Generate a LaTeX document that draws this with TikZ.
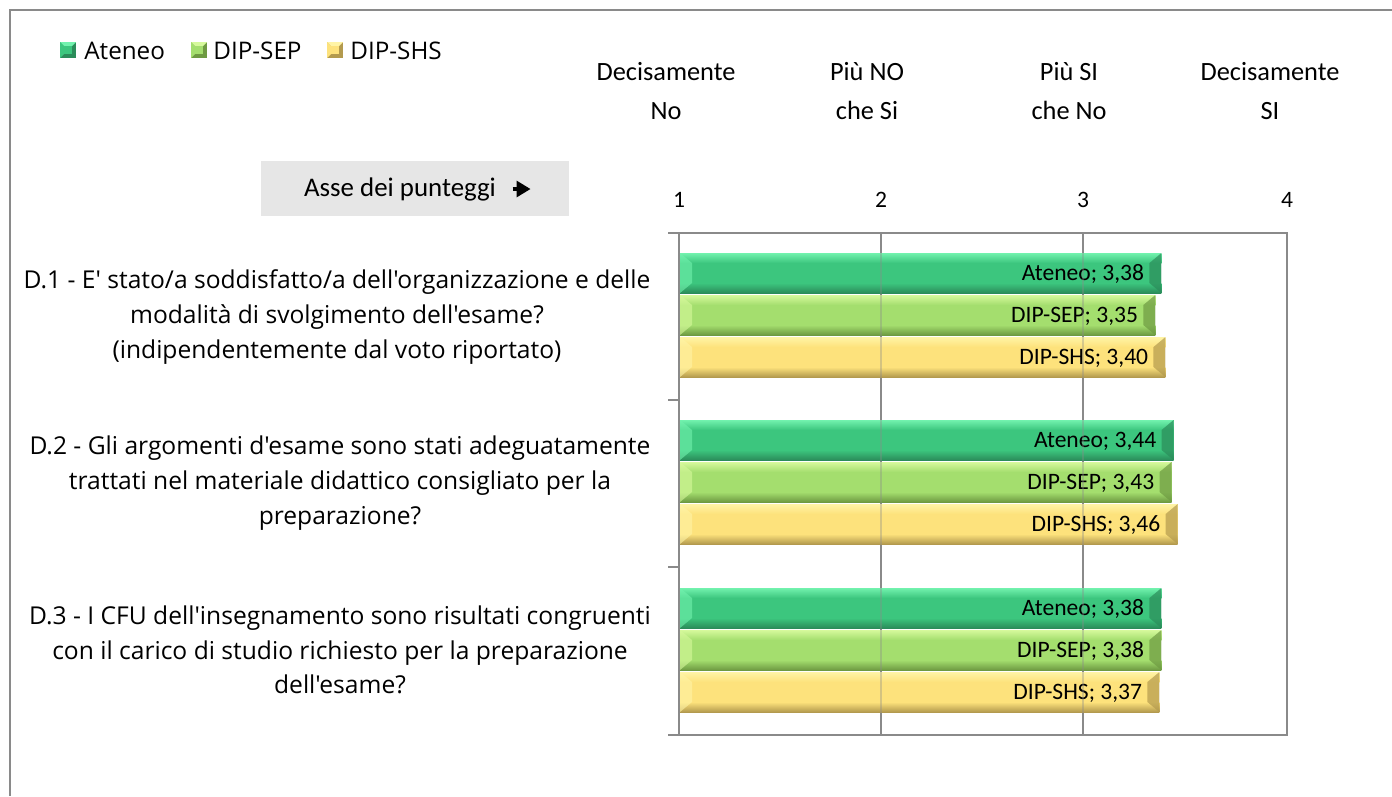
\documentclass[tikz,border=0pt]{standalone}
\usepackage{fontspec}
\setmainfont{Carlito}
\newfontfamily\qfont{Open Sans}
\usetikzlibrary{positioning, arrows.meta}

\definecolor{frame}{HTML}{8A8A8A}
\definecolor{asse}{HTML}{E6E6E6}
\definecolor{ateneo}{HTML}{3CC67E}
\definecolor{ateneoL}{HTML}{72F2AE}
\definecolor{ateneoD}{HTML}{2B8C5A}
\definecolor{sep}{HTML}{A4DE6E}
\definecolor{sepL}{HTML}{D6F99C}
\definecolor{sepD}{HTML}{6E9A42}
\definecolor{shs}{HTML}{FDE27C}
\definecolor{shsL}{HTML}{FFF4A6}
\definecolor{shsD}{HTML}{B39A4E}

\tikzset{
  hdr/.style={align=center, font=\fontsize{15}{22.7}\selectfont},
  quest/.style={align=center, font=\qfont\fontsize{14}{19.8}\selectfont},
  leg/.style={anchor=west, inner sep=0pt, font=\qfont\fontsize{13.8}{16}\selectfont},
  lbl/.style={anchor=east, inner sep=0pt, font=\fontsize{13.4}{16}\selectfont},
  tick/.style={font=\fontsize{13.4}{16}\selectfont},
  axisline/.style={draw=frame, line width=1pt},
}

\begin{document}
\begin{tikzpicture}[x=0.02cm, y=-0.02cm]
\useasboundingbox (0,0) rectangle (1392,796);

% outer frame of the chart
\draw[axisline] (1392,10) -- (10,10) -- (10,796);

% legend
\foreach \xs/\col/\name/\xt in {60/ateneo/Ateneo/84, 191/sep/DIP-SEP/213, 327/shs/DIP-SHS/350} {
  \fill[\col D] (\xs,42) rectangle ++(16,16);
  \fill[\col L] (\xs,42) -- ++(16,0) -- ++(-4,4) -- ++(-8,0) -- cycle;
  \fill[\col] (\xs,42) -- ++(4,4) -- ++(0,8) -- ++(-4,4) -- cycle;
  \fill[\col] (\xs+4,46) rectangle ++(8,8);
  \node[leg] (leg-\name) at (\xt,51) {\name};
}

% scale headings
\node[hdr] (h1) at (666,91) {Decisamente\\No};
\node[hdr] (h2) at (867,91) {Più NO\\che Si};
\node[hdr] (h3) at (1069,91) {Più SI\\che No};
\node[hdr] (h4) at (1270,91) {Decisamente\\SI};

% axis caption
\fill[asse] (261,161) rectangle (569,216);
\node[font=\fontsize{15.3}{18}\selectfont] (asse) at (400,189) {Asse dei punteggi};
\draw[-{Triangle[length=8pt, width=9pt]}, line width=2.2pt] ([xshift=6pt]asse.east) -- ++(18,0);

% axis numbers
\foreach \v/\xv in {1/679, 2/881, 3/1083, 4/1287}
  \node[tick] (n\v) at (\xv,200) {\v};

% plot area and grid
\draw[axisline] (881,233) -- (881,735);
\draw[axisline] (1083,233) -- (1083,735);
\draw[axisline] (679,233) rectangle (1287,735);
\foreach \yk in {233, 400, 567, 735}
  \draw[axisline] (668,\yk) -- (679,\yk);

% bars
\foreach \yt/\v/\col/\txt [count=\i] in {
  253/3.38/ateneo/{Ateneo; 3,38}, 295/3.35/sep/{DIP-SEP; 3,35}, 337/3.40/shs/{DIP-SHS; 3,40},
  420/3.44/ateneo/{Ateneo; 3,44}, 462/3.43/sep/{DIP-SEP; 3,43}, 504/3.46/shs/{DIP-SHS; 3,46},
  588/3.38/ateneo/{Ateneo; 3,38}, 630/3.38/sep/{DIP-SEP; 3,38}, 672/3.37/shs/{DIP-SHS; 3,37}} {
  \pgfmathsetmacro{\xe}{679+(\v-1)*202.7}
  \fill[\col] (680,\yt) rectangle (\xe,\yt+40);
  \shade[top color=\col L, bottom color=\col] (680,\yt) rectangle (\xe,\yt+10);
  \shade[top color=\col, bottom color=\col D] (680,\yt+30) rectangle (\xe,\yt+40);
  \fill[\col L, opacity=0.6] (680,\yt) -- (692,\yt+10) -- (692,\yt+30) -- (680,\yt+40) -- cycle;
  \fill[\col D, opacity=0.7] (\xe,\yt) -- (\xe-12,\yt+10) -- (\xe-12,\yt+30) -- (\xe,\yt+40) -- cycle;
  \node[lbl] (bar\i) at (\xe-17,\yt+21) {\txt};
}

% grid seen through the bars
\draw[axisline, opacity=0.35] (881,233) -- (881,735);
\draw[axisline, opacity=0.35] (1083,233) -- (1083,735);
\draw[axisline] (679,233) -- (679,735);

% questions
\node[quest] (q1) at (337,317) {D.1 - E' stato/a soddisfatto/a dell'organizzazione e delle\\modalità di svolgimento dell'esame?\\(indipendentemente dal voto riportato)};
\node[quest] (q2) at (340,483) {D.2 - Gli argomenti d'esame sono stati adeguatamente\\trattati nel materiale didattico consigliato per la\\preparazione?};
\node[quest] (q3) at (340,650) {D.3 - I CFU dell'insegnamento sono risultati congruenti\\con il carico di studio richiesto per la preparazione\\dell'esame?};
\end{tikzpicture}
\end{document}
